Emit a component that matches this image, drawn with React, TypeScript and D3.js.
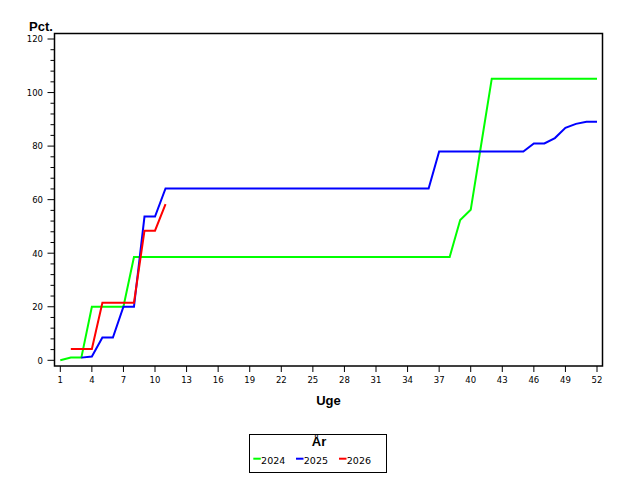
import React from "react";
import * as d3 from "d3";

const weeks2024 = [1,2,3,4,5,6,7,8,9,10,11,12,13,14,15,16,17,18,19,20,21,22,23,24,25,26,27,28,29,30,31,32,33,34,35,36,37,38,39,40,41,42,43,44,45,46,47,48,49,50,51,52];
const values2024 = [0,1,1,20,20,20,20,38.6,38.6,38.6,38.6,38.6,38.6,38.6,38.6,38.6,38.6,38.6,38.6,38.6,38.6,38.6,38.6,38.6,38.6,38.6,38.6,38.6,38.6,38.6,38.6,38.6,38.6,38.6,38.6,38.6,38.6,38.6,52.4,56.2,80.7,105.2,105.2,105.2,105.2,105.2,105.2,105.2,105.2,105.2,105.2,105.2];

const weeks2025 = [3,4,5,6,7,8,9,10,11,12,13,14,15,16,17,18,19,20,21,22,23,24,25,26,27,28,29,30,31,32,33,34,35,36,37,38,39,40,41,42,43,44,45,46,47,48,49,50,51,52];
const values2025 = [1,1.4,8.5,8.5,20,20,53.7,53.7,64.2,64.2,64.2,64.2,64.2,64.2,64.2,64.2,64.2,64.2,64.2,64.2,64.2,64.2,64.2,64.2,64.2,64.2,64.2,64.2,64.2,64.2,64.2,64.2,64.2,64.2,78,78,78,78,78,78,78,78,78,81,81,83,86.8,88.3,89.1,89.1];

const weeks2026 = [2,3,4,5,6,7,8,9,10,11];
const values2026 = [4.2,4.2,4.2,21.5,21.5,21.5,21.5,48.4,48.4,58.3];

const xTicks = [1,4,7,10,13,16,19,22,25,28,31,34,37,40,43,46,49,52];
const yTicks = [0,20,40,60,80,100,120];
const yMinorTicks = d3.range(0, 121, 4);

const seriesNames = ["2024", "2025", "2026"];
const seriesColors = ["#00ff00", "#0000ff", "#ff0000"];

export default function App() {
  const W = 640, H = 480;
  const frame = { left: 54.5, right: 602.5, top: 33.5, bottom: 366 };
  const x = d3.scaleLinear().domain([1, 52]).range([60.3, 597]);
  const y = d3.scaleLinear().domain([0, 120]).range([360.3, 39]);
  const line = d3.line<[number, number]>().x(d => x(d[0])).y(d => y(d[1]));
  const series: [number, number][][] = [
    weeks2024.map((w, i) => [w, values2024[i]]),
    weeks2025.map((w, i) => [w, values2025[i]]),
    weeks2026.map((w, i) => [w, values2026[i]]),
  ];
  const font = "'Liberation Sans', Arial, sans-serif";
  const tickFont = "'DejaVu Sans', Verdana, sans-serif";
  const legendItems = [253.3, 296, 339];
  return (
    <svg width={W} height={H} style={{ position: "absolute", left: 0, top: 0, background: "#fff" }} fontFamily={font}>
      <rect x={0} y={0} width={W} height={H} fill="#fff" />
      {series.map((s, i) => (
        <path key={i} d={line(s) || ""} fill="none" stroke={seriesColors[i]} strokeWidth={2} />
      ))}
      <rect x={frame.left} y={frame.top} width={frame.right - frame.left} height={frame.bottom - frame.top} fill="none" stroke="#000" strokeWidth={1.5} />
      {yMinorTicks.map(v => (
        <line key={"m" + v} x1={frame.left} x2={frame.left - (v % 20 === 0 ? 7 : 4)} y1={y(v)} y2={y(v)} stroke="#000" strokeWidth={1} />
      ))}
      {yTicks.map(v => (
        <text key={"yl" + v} x={43} y={y(v) + 3.3} fontSize={8.5} fontFamily={tickFont} textAnchor="end" fill="#000">{v}</text>
      ))}
      {xTicks.map(v => (
        <g key={"x" + v}>
          <line x1={x(v)} x2={x(v)} y1={frame.bottom} y2={frame.bottom + 6} stroke="#000" strokeWidth={1} />
          <text x={x(v)} y={383} fontSize={8.5} fontFamily={tickFont} textAnchor="middle" fill="#000">{v}</text>
        </g>
      ))}
      <text x={29} y={31} fontSize={13} fontWeight="bold" fill="#000">Pct.</text>
      <text x={(frame.left + frame.right) / 2} y={405} fontSize={13} fontWeight="bold" textAnchor="middle" fill="#000">Uge</text>
      <rect x={249.5} y={434.5} width={137} height={38} fill="none" stroke="#000" strokeWidth={1} />
      <text x={319} y={445.5} fontSize={13} fontWeight="bold" textAnchor="middle" fill="#000">År</text>
      {seriesNames.map((n, i) => (
        <g key={n}>
          <line x1={legendItems[i]} x2={legendItems[i] + 7.5} y1={458.7} y2={458.7} stroke={seriesColors[i]} strokeWidth={2} />
          <text x={legendItems[i] + 7.8} y={463.7} fontSize={9.5} fontFamily={tickFont} fill="#000">{n}</text>
        </g>
      ))}
    </svg>
  );
}
